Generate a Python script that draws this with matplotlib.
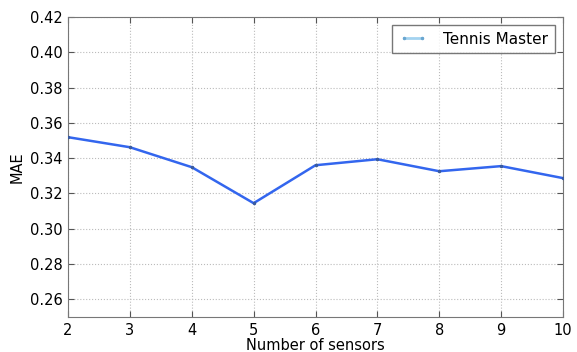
import matplotlib
matplotlib.use("Agg")
import matplotlib.pyplot as plt
from matplotlib.lines import Line2D

plt.rcParams["font.family"] = "DejaVu Sans"

sensors = [2, 3, 4, 5, 6, 7, 8, 9, 10]
mae = [0.3519, 0.3462, 0.3349, 0.3145, 0.3360, 0.3394, 0.3326, 0.3355, 0.3287]
yticks = [0.26, 0.28, 0.30, 0.32, 0.34, 0.36, 0.38, 0.40, 0.42]

fig = plt.figure(figsize=(5.77, 3.52), dpi=100)
ax = fig.add_axes([68 / 577, 35 / 352, (563 - 68) / 577, (317 - 17) / 352])

ax.plot(sensors, mae, color="#3366ee", lw=1.8, marker=".", ms=3, mec="#3a5a9a", zorder=3)

ax.set_xlim(2, 10)
ax.set_ylim(0.25, 0.42)
ax.set_xticks(sensors)
ax.set_yticks(yticks)
ax.set_yticklabels(["%.2f" % t for t in yticks])
ax.tick_params(labelsize=10.5, direction="in", length=4, color="#555555", top=True, right=True, pad=4)
ax.grid(True, linestyle=":", color="#bbbbbb", lw=0.8)
for s in ax.spines.values():
    s.set_color("#777777")

ax.set_xlabel("Number of sensors", fontsize=10.5, labelpad=0)
ax.set_ylabel("MAE", fontsize=10.5, labelpad=4)

handle = Line2D([], [], color="#a3d3f0", lw=2, marker=".", ms=3, mec="#6aa6d0", mfc="#6aa6d0")
leg = ax.legend([handle], ["Tennis Master"], loc="upper right", fontsize=11, numpoints=2,
                fancybox=False, handlelength=1.8, handletextpad=1.1,
                borderpad=0.45, borderaxespad=0.5)
leg.get_frame().set_edgecolor("#555555")

fig.savefig("out.png", dpi=100)
